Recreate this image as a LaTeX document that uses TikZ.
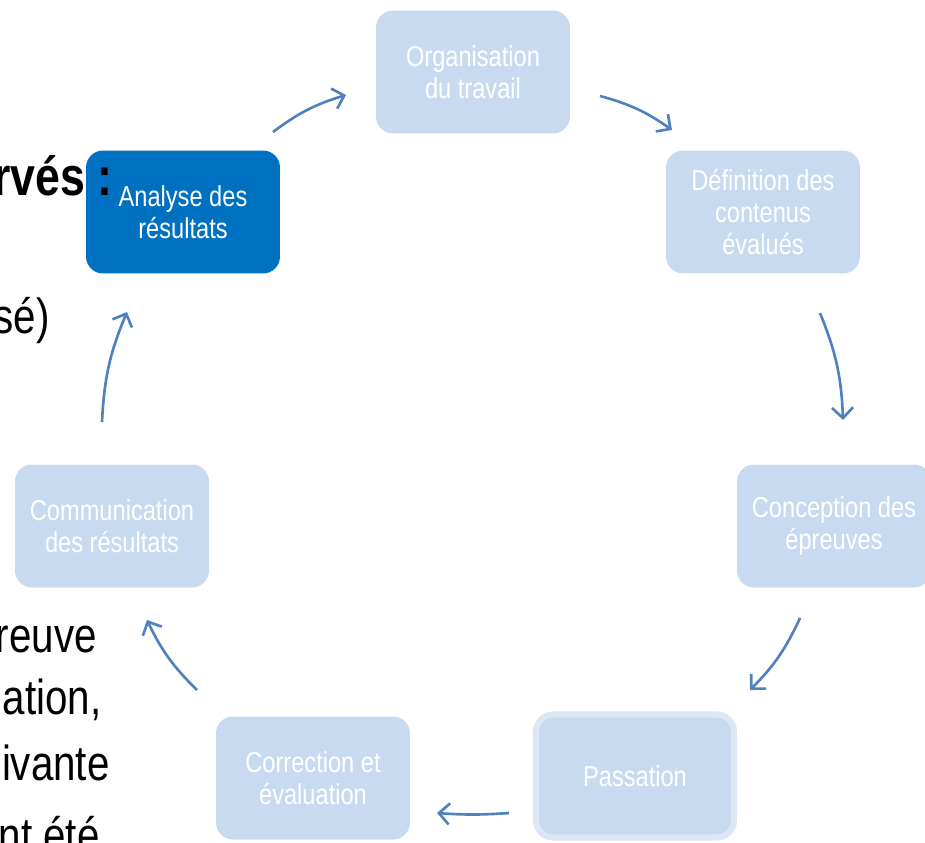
\documentclass[tikz,border=0pt]{standalone}
\usepackage{fontspec}
\setmainfont{Liberation Sans}[FakeStretch=0.82]
\usepackage{tikz}
\usetikzlibrary{arrows.meta}

\definecolor{paleblue}{HTML}{C8DAF0}
\definecolor{deepblue}{HTML}{0070C0}
\definecolor{arrowblue}{HTML}{4F81BD}
\definecolor{haloblue}{HTML}{DDE7F3}

\tikzset{
  stage/.style={rectangle, rounded corners=0.34cm, fill=paleblue, text=white,
    minimum width=3.88cm, minimum height=2.46cm, inner sep=0pt, align=center,
    font=\fontsize{16.4}{18}\selectfont},
  cycle/.style={draw=arrowblue, line width=1.5pt, -{Straight Barb[length=6pt,width=12pt]}},
  slide/.style={anchor=base east, inner sep=0pt, font=\fontsize{28}{30}\selectfont},
}

\begin{document}
\begin{tikzpicture}[x=0.02cm, y=-0.02cm]
  \useasboundingbox (0,0) rectangle (925,842);

   \draw (473,72) node[stage] (orga) {Organisation\\du travail};
  \draw (763,212) node[stage] (defi) {D\'efinition des\\contenus\\\'evalu\'es};
  \draw (834,526) node[stage] (conc) {Conception des\\\'epreuves};
	\draw (635,776) node[stage, draw=haloblue, line width=3.5pt, minimum width=3.96cm] (pass) {Passation};
  \draw (313,778) node[stage] (corr) {Correction et\\\'evaluation};
	\draw (112,526) node[stage] (comm) {Communication\\des r\'esultats};
      \draw (183,212) node[stage, fill=deepblue] (anal) {Analyse des\\r\'esultats};

  \draw (113,195) node[slide, font=\fontsize{31}{33}\selectfont\bfseries] (obs) {rv\'es :};
  \draw (50,333) node[slide] (rea) {s\'e)};
  \draw (97,652) node[slide] (epr) {reuve};
	\draw (102,714) node[slide] (pas) {ation,};
	\draw (110,780) node[slide] (sui) {ivante};
	\draw (100,852) node[slide] (ete) {nt \'et\'e};

  \coordinate (o1) at (600,96);  \coordinate (o2) at (672,130);
  \coordinate (d1) at (820,313); \coordinate (d2) at (843,420);
  \coordinate (c1) at (800,618); \coordinate (c2) at (750,690);
  \coordinate (p1) at (509,813); \coordinate (p2) at (437,813);
  \coordinate (e1) at (197,690); \coordinate (e2) at (147,620);
  \coordinate (m1) at (102,422); \coordinate (m2) at (127,312);
  \coordinate (a1) at (273,132); \coordinate (a2) at (346,95);

    \path (o1) edge[cycle, bend left=10] (o2);
    \path (d1) edge[cycle, bend left=10] (d2);
    \path (c1) edge[cycle, bend left=10] (c2);
	\path (p1) edge[cycle, bend left=4] (p2);
	\path (e1) edge[cycle, bend left=10] (e2);
    \path (m1) edge[cycle, bend left=10] (m2);
	    \path (a1) edge[cycle, bend left=10] (a2);

\end{tikzpicture}
\end{document}
